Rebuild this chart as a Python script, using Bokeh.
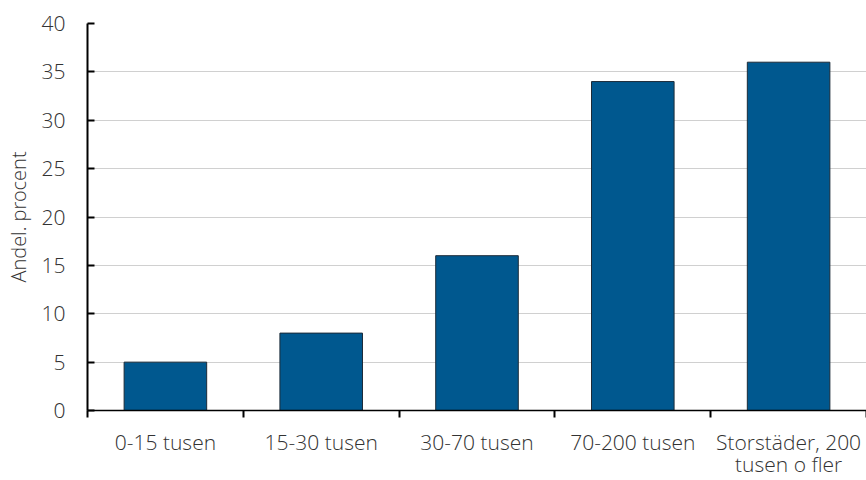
from bokeh.plotting import figure
from bokeh.models import Range1d, FixedTicker, ColumnDataSource
from bokeh.embed import file_html
from bokeh.resources import INLINE

categories = ["0-15 tusen", "15-30 tusen", "30-70 tusen", "70-200 tusen", "Storstäder, 200\ntusen o fler"]
values = [5, 8, 16, 34, 36]
y_ticks = [0, 5, 10, 15, 20, 25, 30, 35, 40]

positions = [i + 0.5 for i in range(len(categories))]
source = ColumnDataSource(dict(x=positions, top=values))

p = figure(width=866, height=480, output_backend="svg", toolbar_location=None,
           x_range=Range1d(0, len(categories)), y_range=Range1d(0, 40),
           min_border_left=87, min_border_right=0, min_border_top=23, min_border_bottom=68)
p.outline_line_color = None
p.background_fill_color = "white"

p.vbar(x="x", top="top", width=0.53, source=source,
       fill_color="#00588F", line_color="#1C2B38", line_width=1)

FONT = "'Open Sans Light', 'Open Sans'"
TXT = "#333333"

# x axis
p.xaxis.ticker = FixedTicker(ticks=positions, minor_ticks=list(range(len(categories) + 1)))
p.xaxis.major_label_overrides = {pos: lab for pos, lab in zip(positions, categories)}
p.xaxis.major_tick_out = 0
p.xaxis.major_tick_in = 0
p.xaxis.minor_tick_out = 7
p.xaxis.minor_tick_in = 0
p.xaxis.minor_tick_line_color = "black"
p.xaxis.minor_tick_line_width = 2
p.xaxis.axis_line_color = "black"
p.xaxis.axis_line_width = 1.5
p.xaxis.major_label_text_font = FONT
p.xaxis.major_label_text_font_size = "21px"
p.xaxis.major_label_text_color = TXT
p.xaxis.major_label_text_line_height = 0.8
p.xaxis.major_label_standoff = 10

# y axis
p.yaxis.ticker = FixedTicker(ticks=y_ticks)
p.yaxis.major_tick_in = 7
p.yaxis.major_tick_out = 0
p.yaxis.minor_tick_line_color = None
p.yaxis.major_tick_line_color = "black"
p.yaxis.major_tick_line_width = 2
p.yaxis.axis_line_color = "black"
p.yaxis.axis_line_width = 2
p.yaxis.major_label_text_font = FONT
p.yaxis.major_label_text_font_size = "21px"
p.yaxis.major_label_text_color = TXT
p.yaxis.major_label_standoff = 22
p.yaxis.axis_label = "Andel. procent"
p.yaxis.axis_label_text_font = FONT
p.yaxis.axis_label_text_font_style = "normal"
p.yaxis.axis_label_text_font_size = "20px"
p.yaxis.axis_label_text_color = TXT
p.yaxis.axis_label_standoff = 7

p.xgrid.grid_line_color = None
p.ygrid.ticker = FixedTicker(ticks=y_ticks)
p.ygrid.grid_line_color = "#d0d0d0"
p.ygrid.grid_line_width = 1

open("out.html", "w").write(file_html(p, INLINE))
